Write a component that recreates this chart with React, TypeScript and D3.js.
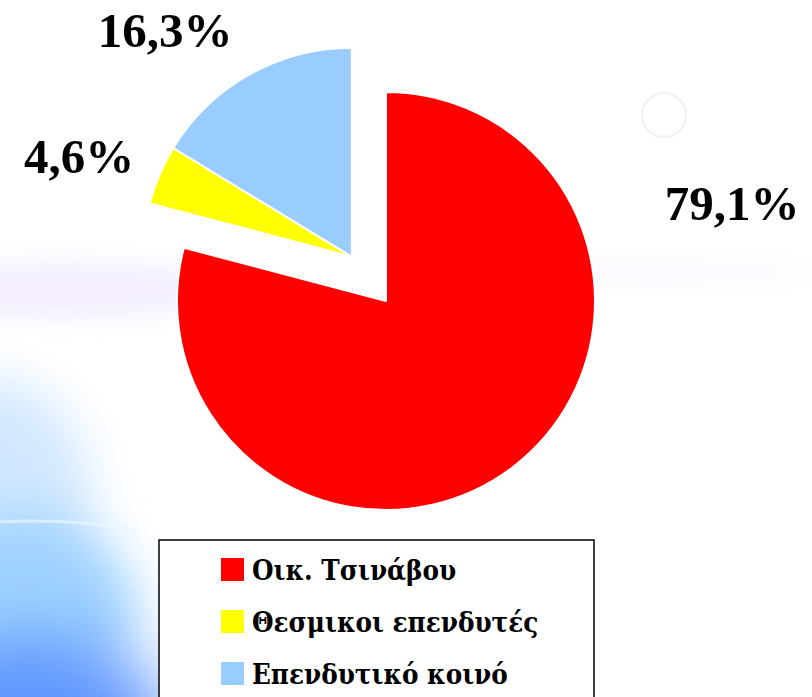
import React, { useEffect, useRef } from 'react';
import * as d3 from 'd3';

// Chart data
const categories = ['Οικ. Τσινάβου', 'Θεσμικοι επενδυτές', 'Επενδυτικό κοινό'];
const shares = [79.1, 4.6, 16.3];
const shareLabels = ['79,1%', '4,6%', '16,3%'];
const exploded = [false, true, true];
const colors = ['#FF0000', '#FFFF00', '#99CCFF'];

const App = () => {
  const ref = useRef<HTMLDivElement>(null);

  useEffect(() => {
    const cfg = {
      w: 812,
      h: 697,
      cx: 386, // pie centre
      cy: 301,
      radius: 209,
      explode: 56, // distance the pulled-out slices are moved
      font: '"Liberation Serif", "Times New Roman", serif',
      greekFont: '"DejaVu Serif Condensed", "DejaVu Serif", serif',
    };

    d3.select(ref.current).select('svg').remove();

    const svg = d3.select(ref.current).append('svg')
      .attr('width', cfg.w)
      .attr('height', cfg.h)
      .style('position', 'absolute')
      .style('left', 0)
      .style('top', 0);

    // Soft background like the slide template
    const defs = svg.append('defs');
    const blur = (id: string, sd: number) => defs.append('filter')
      .attr('id', id).attr('x', '-50%').attr('y', '-50%').attr('width', '200%').attr('height', '200%')
      .append('feGaussianBlur').attr('stdDeviation', sd);
    blur('b40', 35);
    blur('b25', 25);
    blur('b12', 12);

    svg.append('rect').attr('width', cfg.w).attr('height', cfg.h).attr('fill', '#ffffff');
    const bg = svg.append('g');
    bg.append('ellipse').attr('cx', 60).attr('cy', 290).attr('rx', 170).attr('ry', 28)
      .attr('fill', '#ece2ff').attr('opacity', 0.6).attr('filter', 'url(#b12)');
    bg.append('ellipse').attr('cx', 620).attr('cy', 272).attr('rx', 200).attr('ry', 10)
      .attr('fill', '#f8f0ff').attr('opacity', 0.6).attr('filter', 'url(#b12)');
    bg.append('ellipse').attr('cx', -10).attr('cy', 500).attr('rx', 100).attr('ry', 120)
      .attr('fill', '#d0e7ff').attr('filter', 'url(#b25)');
    bg.append('ellipse').attr('cx', 20).attr('cy', 610).attr('rx', 115).attr('ry', 95)
      .attr('fill', '#9fd2ff').attr('filter', 'url(#b25)');
    bg.append('ellipse').attr('cx', 30).attr('cy', 720).attr('rx', 140).attr('ry', 80)
      .attr('fill', '#5a93ff').attr('filter', 'url(#b40)');
    bg.append('path').attr('d', 'M0,522 Q70,518 140,530')
      .attr('fill', 'none').attr('stroke', '#eaf7ff').attr('stroke-width', 3).attr('opacity', 0.7);
    bg.append('circle').attr('cx', 664).attr('cy', 115).attr('r', 22)
      .attr('fill', 'none').attr('stroke', '#f3f2f6').attr('stroke-width', 2.5);

    // Pie
    const pie = d3.pie<number>().sort(null).value(d => d);
    const arcs = pie(shares);
    const arc = d3.arc<d3.PieArcDatum<number>>().innerRadius(0).outerRadius(cfg.radius);

    // Pulled-out slices move together along their common middle angle
    const out = arcs.filter((a, i) => exploded[i]);
    const midOut = (d3.min(out, a => a.startAngle)! + d3.max(out, a => a.endAngle)!) / 2;
    const ox = cfg.explode * Math.sin(midOut);
    const oy = -cfg.explode * Math.cos(midOut);

    const g = svg.append('g').attr('transform', `translate(${cfg.cx},${cfg.cy})`);
    g.selectAll('.slice')
      .data(arcs)
      .enter().append('path')
      .attr('class', 'slice')
      .attr('transform', (d, i) => exploded[i] ? `translate(${ox},${oy})` : null)
      .attr('d', arc)
      .attr('fill', (d, i) => colors[i])
      .attr('stroke', '#ffffff')
      .attr('stroke-width', 2)
      .attr('stroke-linejoin', 'round');

    // Data labels (placed by hand around the pie, relative to its centre)
    const labelOffsets = [[346, -81], [-307, -128], [-221, -254]];
    g.selectAll('.pct')
      .data(shareLabels)
      .enter().append('text')
      .attr('class', 'pct')
      .attr('x', (d, i) => labelOffsets[i][0])
      .attr('y', (d, i) => labelOffsets[i][1])
      .attr('text-anchor', 'middle')
      .style('font-family', cfg.font)
      .style('font-weight', 'bold')
      .style('font-size', '49px')
      .attr('fill', '#000000')
      .text(d => d);

    // Legend
    const legend = svg.append('g').attr('transform', 'translate(159,540)');
    legend.append('rect')
      .attr('width', 435).attr('height', 180)
      .attr('fill', '#ffffff').attr('stroke', '#000000').attr('stroke-width', 1.5);
    const item = legend.selectAll('.item')
      .data(categories)
      .enter().append('g')
      .attr('class', 'item')
      .attr('transform', (d, i) => `translate(62,${18 + i * 52})`);
    item.append('rect')
      .attr('width', 23).attr('height', 23)
      .attr('fill', (d, i) => colors[i]);
    item.append('text')
      .attr('x', 31).attr('y', 22)
      .style('font-family', cfg.greekFont)
      .style('font-weight', 'bold')
      .style('font-size', '27.5px')
      .attr('fill', '#000000')
      .text(d => d);
  }, []);

  return <div ref={ref}></div>;
};

export default App;
